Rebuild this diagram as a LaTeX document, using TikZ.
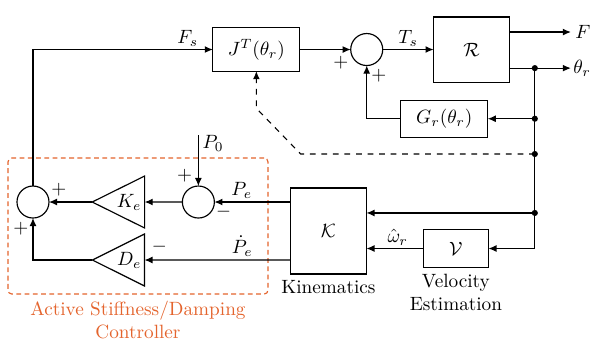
\documentclass[tikz,border=0pt]{standalone}
\usepackage{amsmath,amssymb}
\usepackage{tikz}
\usetikzlibrary{arrows.meta, positioning, calc, shapes.geometric, fit}
\definecolor{ctrlOrange}{RGB}{228,100,45}

\begin{document}
\begin{tikzpicture}[
      node distance=0.9cm and 0.9cm,
      block/.style={rectangle, draw=black, semithick, outer sep=0pt, minimum width=1.59cm, minimum height=0.79cm, align=center},
      sumnode/.style={circle, draw=black, semithick, outer sep=0pt, minimum size=0.585cm, inner sep=0pt},
      gain/.style={isosceles triangle, isosceles triangle stretches, shape border rotate=180, draw=black, semithick, outer sep=0pt, minimum width=0.95cm, minimum height=0.80cm, inner sep=1pt},
      dot/.style={circle, fill=black, inner sep=0pt, minimum size=3.2pt},
      sign/.style={inner sep=0pt},
      lbl/.style={inner sep=1.5pt},
      arrow/.style={-{Latex[length=4.2pt, width=3.6pt]}, semithick},
      ctrlbox/.style={draw=ctrlOrange, semithick, dash pattern=on 2.5pt off 1.8pt, rounded corners=2pt, inner sep=0pt}
  ]
      \useasboundingbox (-0.603,3.693) rectangle (10.182,-2.486);
      % controller
      \node[sumnode] (sumL) at (0,0) {};
      \node[gain, right=0.79cm of sumL] (Ke) {$K_e$};
      \node[sumnode, right=0.69cm of Ke] (sumP) {};
      \node[gain] (De) at ($(Ke)+(0,-1.06)$) {$D_e$};
      % kinematics, velocity estimation
      \node[block, right=1.39cm of sumP, yshift=-0.53cm, minimum width=1.39cm, minimum height=1.57cm] (K) {$\mathcal{K}$};
      \node[block, right=1.04cm of K, yshift=-0.32cm, minimum width=1.19cm, minimum height=0.68cm] (V) {$\mathcal{V}$};
      \node[below=0pt of K] (Klbl) {Kinematics};
      \node[below=0pt of V, align=center] (Vlbl) {Velocity\\Estimation};
      % robot
      \node[block, above=2.1cm of sumP, xshift=1.06cm] (JT) {$J^T(\theta_r)$};
      \node[sumnode, right=0.93cm of JT] (sumT) {};
      \node[block, right=0.93cm of sumT, minimum width=1.39cm, minimum height=1.19cm] (R) {$\mathcal{R}$};
      \node[block, below=0.33cm of R, xshift=-0.5cm, minimum height=0.68cm] (Gr) {$G_r(\theta_r)$};
      % taps
      \coordinate (outF) at ($(R.east)+(1.12,0.32)$);
      \coordinate (outT) at ($(R.east)+(1.12,-0.34)$);
      \node[dot] (tap1) at ($(R.east)+(0.46,-0.34)$) {};
      \node[dot] (tap2) at (tap1 |- Gr) {};
      \node[dot] (tap3) at ($(tap1)+(0,-1.57)$) {};
      \node[dot] (tap4) at ($(tap1 |- K.east)+(0,0.33)$) {};
      \coordinate (p0) at ($(sumP.north)+(0,0.93)$);
      \coordinate (cNW) at (-0.457,0.804);
      \coordinate (cSE) at (4.296,-1.682);
      \node[ctrlbox, fit=(cNW)(cSE)] (ctrl) {};
      \node[below=0pt of ctrl, text=ctrlOrange, align=center] (ctrlLbl) {Active Stiffness/Damping\\Controller};
      % signs
      \node[sign] (sgT1) at ($(sumT)+(-0.475,-0.238)$) {$+$};
      \node[sign] (sgT2) at ($(sumT)+(0.22,-0.475)$) {$+$};
      \node[sign] (sgL1) at ($(sumL)+(0.475,0.22)$) {$+$};
      \node[sign] (sgL2) at ($(sumL)+(-0.22,-0.49)$) {$+$};
      \node[sign] (sgP1) at ($(sumP)+(-0.25,0.475)$) {$+$};
      \node[sign] (sgP2) at ($(sumP)+(0.46,-0.18)$) {$-$};
      \node[sign] (sgD) at ($(De.east)+(0.27,0.24)$) {$-$};
      \node[anchor=north west, inner sep=2pt, yshift=2pt] (P0) at (p0) {$P_0$};
      % connections
      \draw[arrow] (sumL.north) |- node[lbl, pos=0.93, above] (Fs) {$F_s$} (JT.west);
      \draw[arrow] (JT) -- (sumT);
      \draw[arrow] (sumT) -- node[lbl, midway, above] (Ts) {$T_s$} (R);
      \draw[arrow] (R.east |- outF) -- (outF) node[right, inner sep=2pt] (lblF) {$F$};
      \draw[arrow] (R.east |- outT) -- (outT) node[right, inner sep=1pt] (lblT) {$\theta_r$};
      \draw[arrow] (tap1.center) |- (V.east);
      \draw[arrow] (tap2.center) -- (Gr.east);
      \draw[arrow] (Gr.west) -| (sumT.south);
      \draw[arrow, dashed] (tap3.center) -- ($(JT.south |- tap3)+(0.81,0)$) -- ($(JT.south)+(0,-0.68)$) -- (JT.south);
      \draw[arrow] (tap4.center) -- (tap4 -| K.east);
      \draw[arrow] (V) -- node[lbl, pos=0.45, above] (wr) {$\hat{\omega}_r$} (V -| K.east);
      \draw[arrow] (K.west |- sumP) -- node[lbl, pos=0.64, above] (Pe) {$P_e$} (sumP);
      \draw[arrow] (K.west |- De) -- node[lbl, pos=0.33, above] (Pde) {$\dot{P}_e$} (De);
      \draw[arrow] (p0) -- (sumP);
      \draw[arrow] (sumP) -- (Ke);
      \draw[arrow] (Ke) -- (sumL);
      \draw[arrow] (De.west) -| (sumL.south);
  \end{tikzpicture}
\end{document}
